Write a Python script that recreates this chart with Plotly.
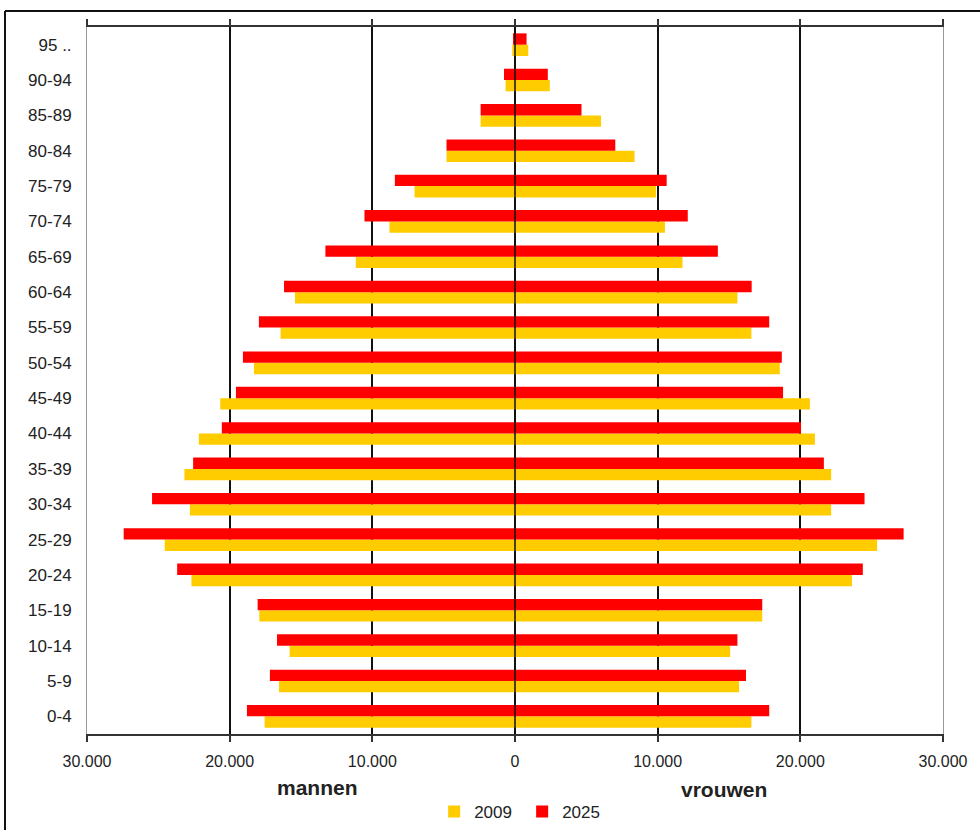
import plotly.graph_objects as go

categories = ["0-4", "5-9", "10-14", "15-19", "20-24", "25-29", "30-34", "35-39",
              "40-44", "45-49", "50-54", "55-59", "60-64", "65-69", "70-74",
              "75-79", "80-84", "85-89", "90-94", "95 .."]

men_2009 = [17550, 16540, 15800, 17920, 22680, 24550, 22790, 23170, 22160, 20660,
            18300, 16430, 15420, 11160, 8800, 7040, 4800, 2410, 660, 190]
men_2025 = [18790, 17180, 16680, 18040, 23680, 27430, 25440, 22560, 20550, 19560,
            19070, 17950, 16190, 13290, 10550, 8420, 4800, 2410, 770, 120]
women_2009 = [16570, 15710, 15080, 17330, 23620, 25380, 22160, 22160, 21020, 20670,
              18560, 16570, 15590, 11740, 10510, 9880, 8380, 6030, 2440, 930]
women_2025 = [17820, 16190, 15590, 17330, 24380, 27240, 24500, 21650, 20050, 18790,
              18700, 17820, 16590, 14220, 12110, 10630, 7030, 4660, 2300, 810]

tick_vals = [-30000, -20000, -10000, 0, 10000, 20000, 30000]
tick_text = ["30.000", "20.000", "10.000", "0", "10.000", "20.000", "30.000"]

GOLD = "#FFCC00"
RED = "#FF0000"
FONT = "Liberation Sans, Arial, sans-serif"

fig = go.Figure()
fig.add_trace(go.Bar(y=categories, x=[-v for v in men_2009], orientation="h",
                     name="2009", marker=dict(color=GOLD, line=dict(width=0)),
                     offsetgroup="2009", legendgroup="2009", showlegend=True))
fig.add_trace(go.Bar(y=categories, x=women_2009, orientation="h",
                     name="2009", marker=dict(color=GOLD, line=dict(width=0)),
                     offsetgroup="2009", legendgroup="2009", showlegend=False))
fig.add_trace(go.Bar(y=categories, x=[-v for v in men_2025], orientation="h",
                     name="2025", marker=dict(color=RED, line=dict(width=0)),
                     offsetgroup="2025", legendgroup="2025", showlegend=True))
fig.add_trace(go.Bar(y=categories, x=women_2025, orientation="h",
                     name="2025", marker=dict(color=RED, line=dict(width=0)),
                     offsetgroup="2025", legendgroup="2025", showlegend=False))

fig.update_layout(
    width=980, height=830,
    margin=dict(l=87, r=37, t=27, b=96, autoexpand=False),
    paper_bgcolor="white", plot_bgcolor="white",
    barmode="group", bargap=0.36, bargroupgap=0,
    font=dict(family=FONT, color="#222", size=16),
    showlegend=True,
    legend=dict(orientation="h", x=0.443, y=0.0217, xref="container", yref="container",
                xanchor="left", yanchor="middle",
                font=dict(family=FONT, size=17, color="#222"),
                entrywidth=43, entrywidthmode="pixels",
                bgcolor="rgba(0,0,0,0)", traceorder="normal"),
    xaxis=dict(range=[-30000, 30000], tickvals=tick_vals, ticktext=tick_text,
               showgrid=True, gridcolor="#111", gridwidth=1.5,
               zeroline=False, automargin=False,
               showline=True, linecolor="#333", linewidth=2, mirror="ticks",
               ticks="outside", ticklen=6, tickcolor="#333", tickwidth=1.5,
               ticklabelstandoff=6,
               tickfont=dict(family=FONT, size=16, color="#222"),
               fixedrange=True),
    yaxis=dict(type="category", categoryorder="array", categoryarray=categories,
               showgrid=False, zeroline=False, automargin=False,
               showline=True, linecolor="#999", linewidth=1, mirror=True,
               ticks="", ticklabelstandoff=11,
               tickfont=dict(family=FONT, size=17, color="#222"),
               fixedrange=True),
    annotations=[
        dict(text="<b>mannen</b>", x=0.269, y=-0.075, xref="paper", yref="paper",
             showarrow=False, xanchor="center", yanchor="middle",
             font=dict(family=FONT, size=21, color="#222")),
        dict(text="<b>vrouwen</b>", x=0.744, y=-0.078, xref="paper", yref="paper",
             showarrow=False, xanchor="center", yanchor="middle",
             font=dict(family=FONT, size=21, color="#222")),
    ],
    shapes=[
        dict(type="line", xref="x", yref="paper", x0=0, x1=0, y0=0, y1=1,
             line=dict(color="#111", width=1.5), layer="above"),
        dict(type="line", xref="paper", yref="paper", x0=-0.0958, x1=1.05,
             y0=1.0226, y1=1.0226, line=dict(color="#111", width=2)),
        dict(type="line", xref="paper", yref="paper", x0=-0.0958, x1=-0.0958,
             y0=1.0226, y1=-0.14, line=dict(color="#111", width=2)),
    ],
)

fig.write_html("out.html", config={"displayModeBar": False},
               post_script="document.body.style.margin='0';"
                           "document.body.style.overflow='hidden';")
